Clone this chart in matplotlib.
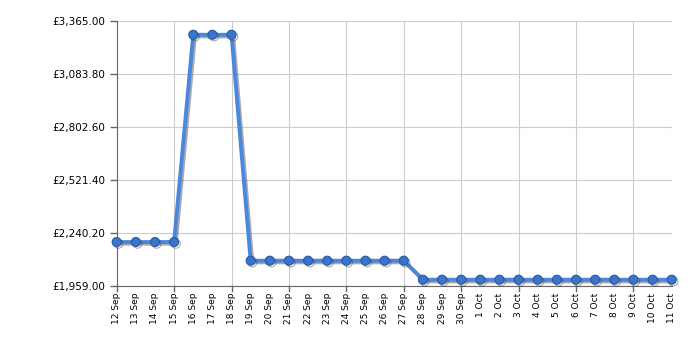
import matplotlib
matplotlib.use("Agg")
import matplotlib.pyplot as plt
import matplotlib.patheffects as pe
import numpy as np

dates = ["12 Sep", "13 Sep", "14 Sep", "15 Sep", "16 Sep", "17 Sep", "18 Sep", "19 Sep",
         "20 Sep", "21 Sep", "22 Sep", "23 Sep", "24 Sep", "25 Sep", "26 Sep", "27 Sep",
         "28 Sep", "29 Sep", "30 Sep", "1 Oct", "2 Oct", "3 Oct", "4 Oct", "5 Oct",
         "6 Oct", "7 Oct", "8 Oct", "9 Oct", "10 Oct", "11 Oct"]
prices = [2192, 2192, 2192, 2192, 3292, 3292, 3292, 2093,
          2093, 2093, 2093, 2093, 2093, 2093, 2093, 2093,
          1992, 1992, 1992, 1992, 1992, 1992, 1992, 1992,
          1992, 1992, 1992, 1992, 1992, 1992]
yticks = [1959.0, 2240.2, 2521.4, 2802.6, 3083.8, 3365.0]

fig = plt.figure(figsize=(7, 3.5), dpi=100)
ax = fig.add_axes([0.1667, 0.183, 0.7929, 0.757])

x = np.arange(len(dates))
shadow = [pe.SimpleLineShadow(offset=(1.2, -1.2), shadow_color="#444444", alpha=0.45), pe.Normal()]
ax.plot(x, prices, color="#4a88dd", lw=2.8, marker="o", markersize=6.5,
        markerfacecolor="#3a75cc", markeredgecolor="#2a5aa0", markeredgewidth=0.8,
        path_effects=shadow, zorder=3, clip_on=False)

ax.set_xlim(0, len(dates) - 1)
ax.set_ylim(yticks[0], yticks[-1])
ax.set_yticks(yticks)
ax.set_yticklabels([f"£{v:,.2f}" for v in yticks], fontsize=7.5, family="DejaVu Sans")

major = list(range(0, len(dates), 3)) + [len(dates) - 1]
ax.set_xticks(x)
ax.set_xticklabels(dates, rotation=90, fontsize=6.5, family="DejaVu Sans")
ax.tick_params(axis="x", length=0, pad=5)
ax.tick_params(axis="y", length=5, color="#666666", width=1)
for m in range(0, len(dates), 3):
    ax.plot([m, m], [0, -0.02], transform=ax.get_xaxis_transform(), color="#666666", lw=1, clip_on=False)

for m in major:
    ax.axvline(m, color="#cccccc", lw=0.8, zorder=0)
for v in yticks:
    ax.axhline(v, color="#cccccc", lw=0.8, zorder=0)

for s in ["top", "right"]:
    ax.spines[s].set_visible(False)
ax.spines["left"].set_color("#666666")
ax.spines["bottom"].set_color("#666666")

fig.savefig("out.png", dpi=100)
